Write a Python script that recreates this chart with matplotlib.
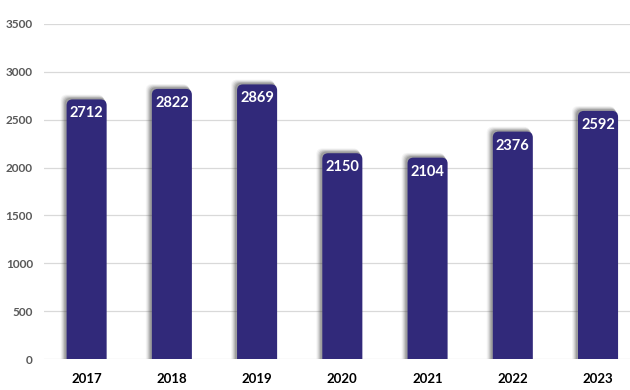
import numpy as np
import matplotlib.pyplot as plt
from matplotlib.patches import FancyBboxPatch

years = ["2017", "2018", "2019", "2020", "2021", "2022", "2023"]
values = [2712, 2822, 2869, 2150, 2104, 2376, 2592]

BAR_COLOR = "#31297a"
plt.rcParams['font.family'] = ['Lato', 'DejaVu Sans']


def plotBars(ax, years, values):
    """Draw rounded bars with a soft shadow"""
    x = np.arange(len(years))
    width = 0.47
    # px -> data conversions (x: 85 px per unit, y: 335 px per 3500)
    pxX = 1 / 85.2
    pxY = 3500 / 335
    aspect = pxY / pxX
    rs = 6 * pxX
    for xi, v in zip(x, values):
        # shadow layers, shifted to the upper left
        for k, a in zip([6, 5, 4, 3, 2], [0.05, 0.08, 0.12, 0.16, 0.2]):
            sh = FancyBboxPatch((xi - width / 2 - k * pxX, -200), width + 0.5 * k * pxX,
                                v + 200 + 0.8 * k * pxY,
                                boxstyle="round,pad=0,rounding_size=%f" % rs,
                                mutation_aspect=aspect, fc="#3a3a3a", ec="none",
                                alpha=a, zorder=2)
            ax.add_patch(sh)
        p = FancyBboxPatch((xi - width / 2, -200), width, v + 200,
                           boxstyle="round,pad=0,rounding_size=%f" % rs,
                           mutation_aspect=aspect, fc=BAR_COLOR, ec="none", zorder=3)
        ax.add_patch(p)
        ax.text(xi, v - 14 * pxY, str(v), ha="center", va="center", color="white",
                fontsize=10.5, fontweight="bold", zorder=4)


def main():
    fig = plt.figure(figsize=(6.3, 3.9), dpi=100)
    ax = fig.add_axes([44 / 630, 31 / 390, 586 / 630, 335 / 390])
    plotBars(ax, years, values)
    ax.set_xlim(-0.5, 6.375)
    ax.set_ylim(0, 3500)
    ax.set_yticks(np.arange(0, 3501, 500))
    ax.set_xticks(np.arange(len(years)))
    ax.set_xticklabels(years)
    ax.grid(axis="y", color="#d9d9d9", linewidth=0.9, zorder=0)
    ax.set_axisbelow(True)
    for s in ax.spines.values():
        s.set_visible(False)
    ax.tick_params(length=0)
    ax.tick_params(axis="y", pad=8, labelsize=8.5, labelcolor="#595959")
    ax.tick_params(axis="x", pad=10, labelsize=9.5, labelcolor="black")
    for lab in ax.get_yticklabels() + ax.get_xticklabels():
        lab.set_fontweight("bold")
    fig.savefig("out.png", dpi=100)


if __name__ == '__main__':
    main()
